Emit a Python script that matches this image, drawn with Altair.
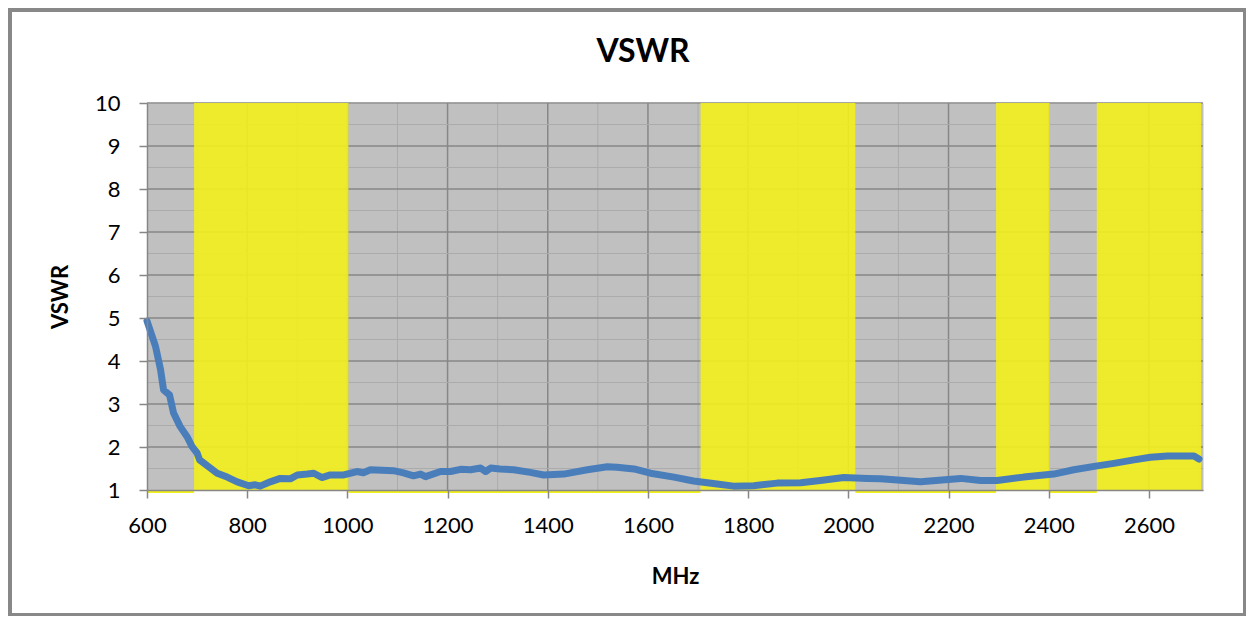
import altair as alt
import pandas as pd

# ---- data ----
freq_mhz = [600, 617, 627, 633, 645, 653, 666, 680, 690, 700, 705, 723, 740, 760, 780,
            803, 816, 826, 846, 866, 886, 900, 920, 933, 949, 966, 993, 1019, 1032, 1046,
            1092, 1112, 1132, 1146, 1156, 1186, 1206, 1226, 1246, 1266, 1276, 1286, 1305,
            1332, 1365, 1392, 1432, 1479, 1519, 1538, 1572, 1605, 1652, 1691, 1738, 1771,
            1811, 1858, 1905, 1944, 1991, 2038, 2064, 2098, 2144, 2224, 2264, 2297, 2350,
            2410, 2450, 2497, 2530, 2570, 2603, 2637, 2690, 2700]
vswr = [4.93, 4.34, 3.80, 3.33, 3.21, 2.79, 2.48, 2.24, 2.01, 1.86, 1.70, 1.54, 1.39, 1.30, 1.19,
        1.10, 1.12, 1.09, 1.19, 1.27, 1.26, 1.35, 1.37, 1.39, 1.29, 1.35, 1.35, 1.43, 1.40, 1.47,
        1.45, 1.40, 1.33, 1.37, 1.31, 1.43, 1.43, 1.48, 1.47, 1.51, 1.43, 1.51, 1.49,
        1.47, 1.41, 1.35, 1.37, 1.47, 1.54, 1.53, 1.49, 1.39, 1.30, 1.21, 1.14, 1.09,
        1.10, 1.16, 1.17, 1.22, 1.29, 1.27, 1.26, 1.23, 1.19, 1.27, 1.22, 1.22, 1.30,
        1.37, 1.47, 1.56, 1.62, 1.70, 1.76, 1.79, 1.79, 1.72]

band_start = [694, 1705, 2295, 2496]
band_end = [1002, 2014, 2402, 2704]
gap_start = [600, 1002, 2014, 2402]
gap_end = [694, 1705, 2295, 2496]

x_ticks = [600, 800, 1000, 1200, 1400, 1600, 1800, 2000, 2200, 2400, 2600]
y_ticks = [1, 2, 3, 4, 5, 6, 7, 8, 9, 10]
major_x = [800, 1000, 1200, 1400, 1600, 1800, 2000, 2200, 2400, 2600]
minor_x = [700, 900, 1100, 1300, 1500, 1700, 1900, 2100, 2300, 2500, 2700]
major_y = [2, 3, 4, 5, 6, 7, 8, 9, 10]
minor_y = [1.5, 2.5, 3.5, 4.5, 5.5, 6.5, 7.5, 8.5, 9.5]
chart_title = "VSWR"

curve = pd.DataFrame({"x": freq_mhz, "y": vswr})
bands = pd.DataFrame({"x": band_start, "x_end": band_end})
gaps = pd.DataFrame({"x": gap_start, "x_end": gap_end})
gx_major = pd.DataFrame({"x": major_x})
gx_minor = pd.DataFrame({"x": minor_x})
gy_major = pd.DataFrame({"y": major_y})
gy_minor = pd.DataFrame({"y": minor_y})

W, H = 1056, 387
x_scale = alt.Scale(domain=[600, 2708], nice=False, zero=False)
y_scale = alt.Scale(domain=[1, 10], nice=False, zero=False)
x_axis = alt.Axis(values=x_ticks, title="MHz", format="d", labelFlush=False,
                  labelPadding=17, titlePadding=30, zindex=1)
y_axis = alt.Axis(values=y_ticks, title="VSWR", format="d", labelPadding=19,
                  titlePadding=22, zindex=1)

X = lambda: alt.X("x:Q", scale=x_scale, axis=x_axis)
Y = lambda: alt.Y("y:Q", scale=y_scale, axis=y_axis)

minor_v = alt.Chart(gx_minor).mark_rule(color="#ABABAB", strokeWidth=1).encode(x=X())
major_v = alt.Chart(gx_major).mark_rule(color="#878787", strokeWidth=1.5).encode(x=X())
minor_h = alt.Chart(gy_minor).mark_rule(color="#ABABAB", strokeWidth=1).encode(y=Y())
major_h = alt.Chart(gy_major).mark_rule(color="#878787", strokeWidth=1.5).encode(y=Y())

yellow = alt.Chart(bands).mark_rect(color="#F2F01C", opacity=0.9).encode(
    x=X(), x2="x_end:Q",
    y=alt.Y(datum=10, scale=y_scale, axis=y_axis), y2=alt.Y2(datum=1))

strip = alt.Chart(gaps).mark_rule(color="#F2F01C", strokeWidth=2).encode(
    x=X(), x2="x_end:Q", y=alt.Y(datum=0.955, scale=y_scale, axis=y_axis))

line = alt.Chart(curve).mark_line(color="#4A7EBB", strokeWidth=7,
                                  strokeCap="round", strokeJoin="round").encode(x=X(), y=Y())

frame = pd.DataFrame({"t": [chart_title]})
title = alt.Chart(frame).mark_text(
    font="Lato", fontSize=32, fontWeight="bold", color="black",
    align="center", baseline="alphabetic").encode(
    text="t:N", x=alt.value(496), y=alt.value(-41))

border = alt.Chart(frame).mark_rect(
    filled=False, stroke="#888888", strokeWidth=4).encode(
    x=alt.value(-137), x2=alt.value(1098), y=alt.value(-93), y2=alt.value(512))

chart = alt.layer(minor_v, major_v, minor_h, major_h, yellow, strip, line, title, border).properties(
    width=W, height=H,
    autosize=alt.AutoSizeParams(type="none"),
    padding={"left": 139, "top": 95, "right": 1238 - 139 - W, "bottom": 608 - 95 - H},
    background="white",
).configure_view(fill="#C0C0C0", stroke="transparent").configure_axis(
    grid=False, domainColor="#868686", domainWidth=1.5, tickColor="#868686", tickWidth=1.5,
    tickSize=8, labelFont="Lato", labelFontSize=22, labelColor="black",
    titleFont="Lato", titleFontSize=22, titleFontWeight="bold", titleColor="black")

chart.save("out.html", embed_options={"renderer": "svg", "actions": False})
